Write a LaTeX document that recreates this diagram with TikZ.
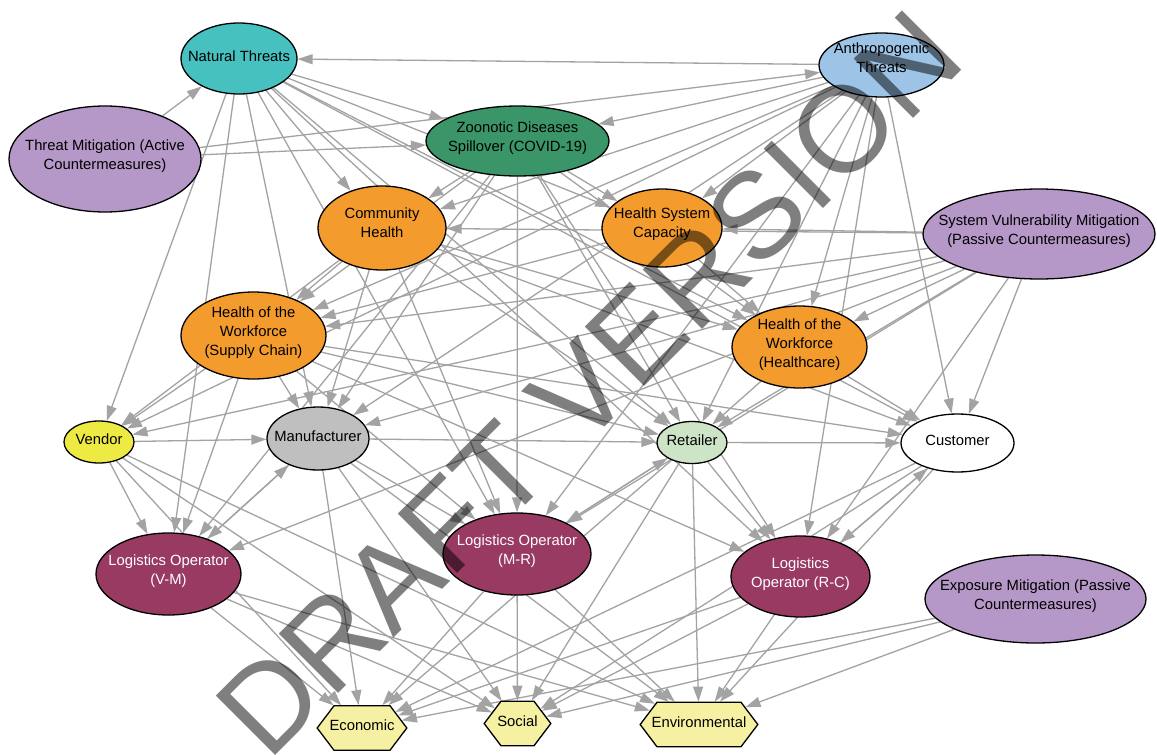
\documentclass[tikz,border=0pt]{standalone}
\usepackage{fontspec}
\setmainfont{Liberation Sans}
\usetikzlibrary{shapes.geometric,shapes.symbols,arrows.meta}
\pgfdeclarelayer{bg}
\pgfsetlayers{bg,main}

\definecolor{ntc}{RGB}{71,192,192}
\definecolor{atc}{RGB}{157,195,230}
\definecolor{mitc}{RGB}{182,152,200}
\definecolor{zdc}{RGB}{58,150,104}
\definecolor{orc}{RGB}{243,155,45}
\definecolor{vdc}{RGB}{238,234,68}
\definecolor{mfc}{RGB}{191,191,191}
\definecolor{rtc}{RGB}{206,228,198}
\definecolor{loc}{RGB}{152,58,98}
\definecolor{occ}{RGB}{245,240,162}
\definecolor{edgec}{RGB}{163,163,163}

\newcommand\nodefont{\fontsize{14.8}{19}\selectfont}

\begin{document}
\begin{tikzpicture}[x=1pt,y=-1pt,
  every node/.style={inner sep=0pt},
  ell/.style={ellipse, draw=black, line width=1.3pt},
  hexa/.style={signal, signal to=east and west, signal pointer angle=105.8,
    draw=black, line width=1.3pt, fill=occ, inner ysep=22.25pt},
  txt/.style={align=center, font=\nodefont, yshift=2.5pt},
  wtxt/.style={txt, text=white},
  link/.style={draw=edgec, line width=1.3pt, -{Triangle[length=15pt,width=10pt]}},
]
\begin{pgfonlayer}{bg}
  \fill[white] (0,0) rectangle (1157,755);
\end{pgfonlayer}
\useasboundingbox (0,0) rectangle (1157,755);

% threats and mitigation
\node[ell, fill=ntc,  minimum width=116pt, minimum height=71pt]  (NT)  at (239,58.5) {};
\node[ell, fill=mitc, minimum width=192pt, minimum height=106pt] (TM)  at (105,159) {};
\node[ell, fill=zdc,  minimum width=183pt, minimum height=70pt]  (ZD)  at (517.5,141) {};
\node[ell, fill=atc,  minimum width=125pt, minimum height=64pt]  (AT)  at (881.5,65) {};
\node[ell, fill=mitc, minimum width=232pt, minimum height=90pt]  (SVM) at (1039,234) {};
% health
\node[ell, fill=orc, minimum width=128pt, minimum height=84pt] (CH)   at (382,228) {};
\node[ell, fill=orc, minimum width=120pt, minimum height=78pt] (HSC)  at (662,228) {};
\node[ell, fill=orc, minimum width=145pt, minimum height=87pt] (HWSC) at (253.5,335.5) {};
\node[ell, fill=orc, minimum width=135pt, minimum height=82pt] (HWHC) at (799.5,347) {};
% supply chain actors
\node[ell, fill=vdc,   minimum width=70pt,  minimum height=42pt] (VEN) at (99,442) {};
\node[ell, fill=mfc,   minimum width=102pt, minimum height=63pt] (MAN) at (318,438.5) {};
\node[ell, fill=rtc,   minimum width=70pt,  minimum height=42pt] (RET) at (692,442.5) {};
\node[ell, fill=white, minimum width=113pt, minimum height=58pt] (CUS) at (957.5,443) {};
% logistics operators
\node[ell, fill=loc, minimum width=145pt, minimum height=82pt] (LOVM) at (168.5,574) {};
\node[ell, fill=loc, minimum width=148pt, minimum height=82pt] (LOMR) at (517,554) {};
\node[ell, fill=loc, minimum width=139pt, minimum height=81pt] (LORC) at (800.5,576.5) {};
\node[ell, fill=mitc, minimum width=221pt, minimum height=88pt] (EM)  at (1035.5,599) {};
% outcomes
\node[hexa, inner xsep=28pt]   (ECO) at (362,728) {};
\node[hexa, inner xsep=16.5pt] (SOC) at (517.5,723.5) {};
\node[hexa, inner xsep=42pt]   (ENV) at (699,724.5) {};

% labels
\node[txt] (NT-t)   at (NT)   {Natural Threats};
\node[txt] (TM-t)   at (TM)   {Threat Mitigation (Active\\Countermeasures)};
\node[txt] (ZD-t)   at (ZD)   {Zoonotic Diseases\\Spillover (COVID-19)};
\node[txt, yshift=4.5pt] (AT-t) at (AT) {Anthropogenic\\Threats};
\node[txt] (SVM-t)  at (SVM)  {System Vulnerability Mitigation\\(Passive Countermeasures)};
\node[txt, yshift=3pt] (CH-t) at (CH) {Community\\Health};
\node[txt, yshift=1pt] (HSC-t) at (HSC) {Health System\\Capacity};
\node[txt] (HWSC-t) at (HWSC) {Health of the\\Workforce\\(Supply Chain)};
\node[txt] (HWHC-t) at (HWHC) {Health of the\\Workforce\\(Healthcare)};
\node[txt] (VEN-t)  at (VEN)  {Vendor};
\node[txt] (MAN-t)  at (MAN)  {Manufacturer};
\node[txt] (RET-t)  at (RET)  {Retailer};
\node[txt] (CUS-t)  at (CUS)  {Customer};
\node[wtxt] (LOVM-t) at (LOVM) {Logistics Operator\\(V-M)};
\node[wtxt] (LOMR-t) at (LOMR) {Logistics Operator\\(M-R)};
\node[wtxt] (LORC-t) at (LORC) {Logistics\\Operator (R-C)};
\node[txt] (EM-t)   at (EM)   {Exposure Mitigation (Passive\\Countermeasures)};
\node[txt] (ECO-t)  at (ECO)  {Economic};
\node[txt] (SOC-t)  at (SOC)  {Social};
\node[txt] (ENV-t)  at (ENV)  {Environmental};

% causal links, kept under the nodes
\begin{pgfonlayer}{bg}
\foreach \a/\b in {
  TM/NT, TM/AT, TM/ZD,
  AT/NT, AT/ZD, AT/CH, AT/HSC, AT/HWSC, AT/HWHC, AT/VEN, AT/MAN, AT/RET,
  AT/CUS, AT/LOMR, AT/LORC,
  NT/ZD, NT/CH, NT/HSC, NT/HWHC, NT/CUS, NT/VEN, NT/MAN, NT/RET,
  NT/LOVM, NT/LOMR, NT/LORC,
  ZD/CH, ZD/HSC, ZD/HWSC, ZD/HWHC, ZD/MAN, ZD/RET, ZD/LOMR, ZD/LOVM, ZD/LORC,
  CH/HWSC, CH/HWHC, CH/VEN, CH/MAN, CH/RET, CH/CUS, CH/LOMR,
  HSC/HWSC, HSC/HWHC,
  HWSC/VEN, HWSC/MAN, HWSC/RET, HWSC/CUS, HWSC/LOVM, HWSC/LOMR, HWSC/LORC,
  HWHC/RET, HWHC/CUS,
  SVM/CH, SVM/HSC, SVM/HWSC, SVM/HWHC, SVM/VEN, SVM/MAN, SVM/RET, SVM/CUS,
  SVM/LOVM, SVM/LOMR, SVM/LORC,
  VEN/MAN, VEN/LOVM, VEN/ECO, VEN/SOC, VEN/ENV,
  MAN/RET, MAN/LOVM, MAN/LOMR, MAN/ECO, MAN/SOC, MAN/ENV,
  RET/CUS, RET/LOMR, RET/LORC, RET/ECO, RET/SOC, RET/ENV,
  CUS/LORC, CUS/ECO, CUS/SOC, CUS/ENV,
  LOVM/MAN, LOVM/ECO, LOVM/SOC, LOVM/ENV,
  LOMR/RET, LOMR/ECO, LOMR/SOC, LOMR/ENV,
  LORC/CUS, LORC/ECO, LORC/SOC, LORC/ENV,
  EM/ECO, EM/SOC, EM/ENV}
  \draw[link] (\a) -- (\b);
\end{pgfonlayer}

% watermark
\node[rotate=45, font=\fontsize{122}{122}\selectfont, text=black, text opacity=0.5]
  (wm) at (589,383) {DRAFT VERSION};
\end{tikzpicture}
\end{document}
